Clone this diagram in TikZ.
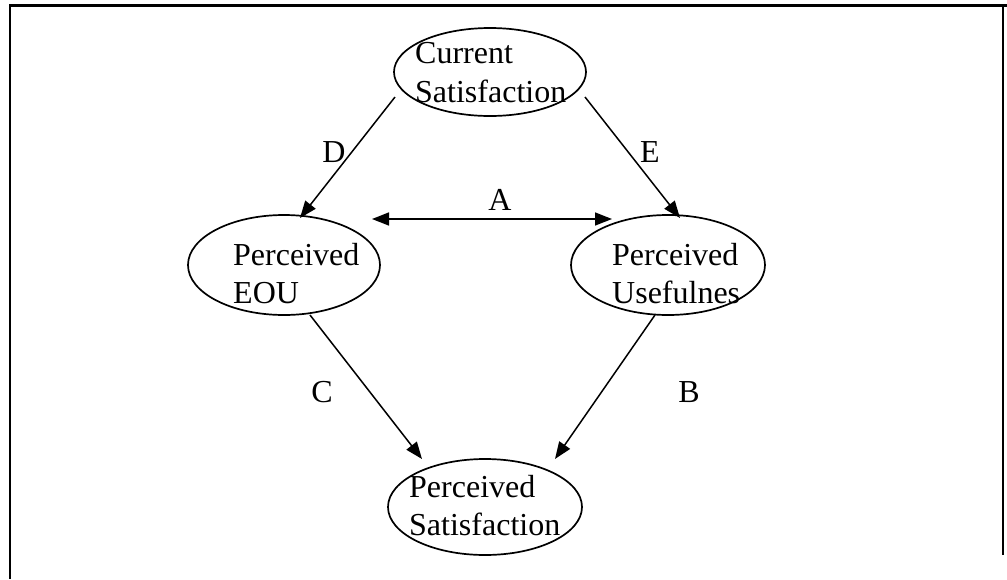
\documentclass[tikz,border=0pt]{standalone}
\usepackage{fontspec}
\setmainfont{Liberation Serif}
\usetikzlibrary{arrows.meta}
\begin{document}
\begin{tikzpicture}[x=1pt,y=-1pt,
  oval/.style={line width=1.7pt},
  caption/.style={anchor=base west,inner sep=0pt,font=\fontsize{32}{39}\selectfont},
  lbl/.style={inner sep=0pt,font=\fontsize{32}{39}\selectfont},
  link/.style={line width=1.5pt,-{Triangle[length=17pt,width=13pt]}},
  both/.style={line width=1.5pt,{Triangle[length=17pt,width=13pt]}-{Triangle[length=17pt,width=13pt]}}]
\useasboundingbox (0,0) rectangle (1007,579);
% frame
\draw[line width=3pt] (10,5) -- (1007,5);
\draw[line width=2pt] (10,4) -- (10,579);
\draw[line width=1.5pt] (1003,5) -- (1003,555);
% ellipses
\draw[oval] (490,72) ellipse [x radius=96, y radius=44];
\draw[oval] (284,265) ellipse [x radius=96, y radius=50];
\draw[oval] (668,265) ellipse [x radius=97, y radius=50];
\draw[oval] (485,507) ellipse [x radius=97, y radius=48];
% texts
\node[caption] (t1) at (415,63) {Current};
\node[caption] (t2) at (415,102) {Satisfaction};
\node[caption] (t3) at (233,265) {Perceived};
\node[caption] (t4) at (233,303) {EOU};
\node[caption] (t5) at (612,265) {Perceived};
\node[caption] (t6) at (612,303) {Usefulnes};
\node[caption] (t7) at (409,497) {Perceived};
\node[caption] (t8) at (409,535) {Satisfaction};
% connector end points on the ellipse outlines
\coordinate (d0) at (395,97);  \coordinate (d1) at (300,218);
\coordinate (e0) at (585,97);  \coordinate (e1) at (680,218);
\coordinate (a0) at (372,219); \coordinate (a1) at (612,219);
\coordinate (c0) at (310,315); \coordinate (c1) at (422,459);
\coordinate (b0) at (655,315); \coordinate (b1) at (555,459);
\draw[link] (d0) -- (d1);
\draw[link] (e0) -- (e1);
\draw[both] (a0) -- (a1);
\draw[link] (c0) -- (c1);
\draw[link] (b0) -- (b1);
% labels
\node[lbl] (D) at (334,152) {D};
\node[lbl] (E) at (650,152) {E};
\node[lbl] (A) at (500,200) {A};
\node[lbl] (C) at (322,392) {C};
\node[lbl] (B) at (689,392) {B};
\end{tikzpicture}
\end{document}
